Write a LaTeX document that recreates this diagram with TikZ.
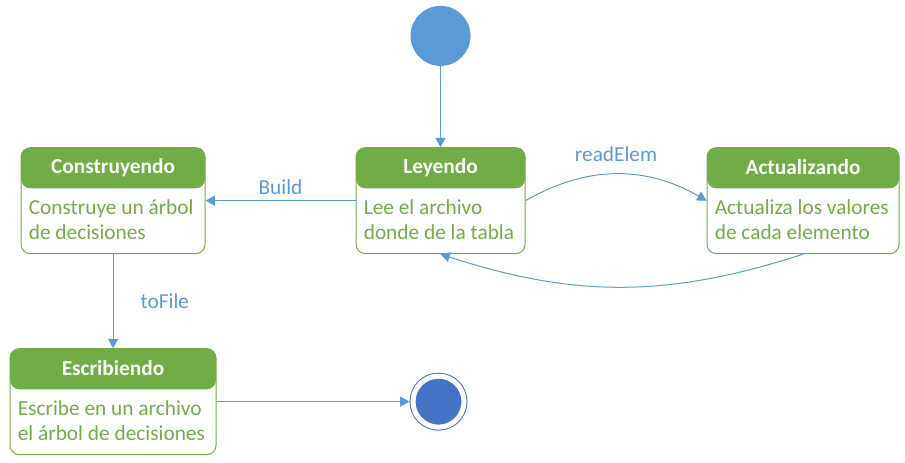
\documentclass[tikz,border=0pt]{standalone}
\usepackage{fontspec}
\setmainfont{Carlito}
\usetikzlibrary{arrows.meta,positioning}
\definecolor{stgreen}{HTML}{70AD47}
\definecolor{trblue}{HTML}{5B9BD5}
\definecolor{endblue}{HTML}{4472C4}
\newcommand{\stfont}{\fontsize{16pt}{19pt}\selectfont}

\begin{document}
\begin{tikzpicture}[
    font=\stfont,
    state/.style={rectangle, draw=stgreen, line width=0.75pt, rounded corners=7pt, minimum height=79.5pt,
        path picture={\fill[stgreen] (path picture bounding box.north west) rectangle ([yshift=-30.5pt]path picture bounding box.north east);}},
    title/.style={anchor=north, minimum height=30pt, inner sep=0pt, text=white, font=\stfont\bfseries},
    body/.style={anchor=north west, align=left, text=stgreen, inner sep=0pt, xshift=6pt, yshift=-39pt},
    arrow/.style={draw=trblue, line width=0.75pt, -{Triangle[length=7pt,width=7.5pt]}},
    trans/.style={text=trblue, font=\stfont},
    start/.style={circle, fill=trblue, minimum size=45pt, inner sep=0pt},
    final/.style={circle, draw=endblue, fill=endblue, double=white, double distance=3.75pt, line width=0.75pt, minimum size=38.25pt, inner sep=0pt, outer sep=2.6pt}
]
    \useasboundingbox (0,0) rectangle (678.75pt,-347.25pt);

    \node[state, minimum width=126.75pt, label={[title]north:Leyendo},
        label={[body]north west:{Lee el archivo\\donde de la tabla}}] (ley) at (330.4pt,-150.5pt) {};
    \node[state, minimum width=138pt, left=112.5pt of ley, label={[title]north:Construyendo},
        label={[body]north west:{Construye un árbol\\de decisiones}}] (cons) {};
    \node[state, minimum width=144pt, right=135.75pt of ley, label={[title]north:Actualizando},
        label={[body]north west:{Actualiza los valores\\de cada elemento}}] (act) {};
    \node[state, minimum width=154.5pt, below=70.5pt of cons, label={[title]north:Escribiendo},
        label={[body]north west:{Escribe en un archivo\\el árbol de decisiones}}] (esc) {};

    \node[start, above=60.75pt of ley] (init) {};
    \node[final, right=144.75pt of esc] (fin) {};

    \draw[arrow] (init) -- (ley);
    \draw[arrow] (ley) -- node[trans, above=1pt] {Build} (cons);
    \draw[arrow] (ley.east) to[bend left=30] node[trans, above=6pt] {readElem} (act.west);
    \draw[arrow] (act.south) to[bend left=18] (ley.south);
    \draw[arrow] (cons) -- node[trans, right=17pt] {toFile} (esc);
    \draw[arrow] (esc) -- (fin);
\end{tikzpicture}
\end{document}
